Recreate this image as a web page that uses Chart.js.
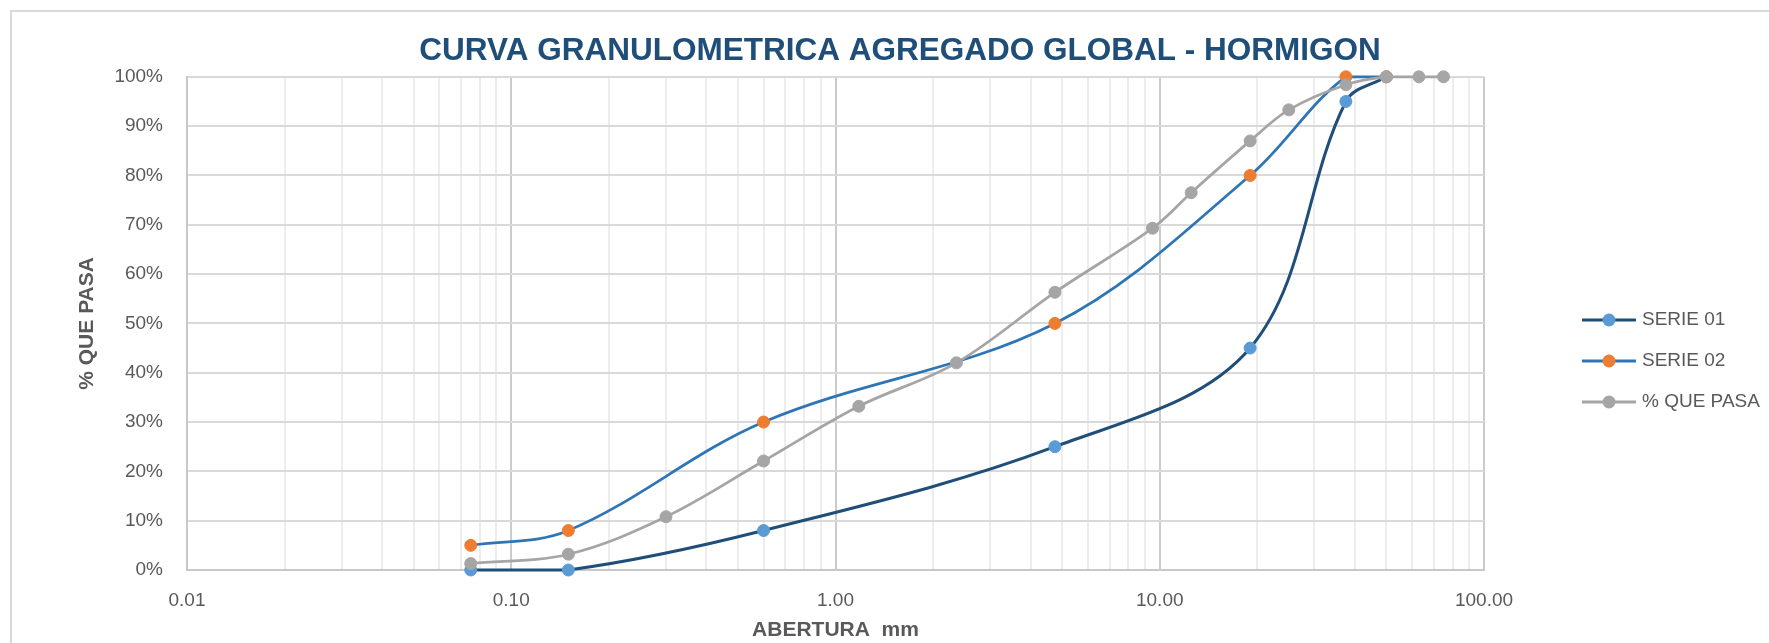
<!DOCTYPE html>
<html>
<head>
<meta charset="utf-8">
<script src="https://cdn.jsdelivr.net/npm/chart.js@4.4.1/dist/chart.umd.min.js"></script>
<style>
  html, body { margin: 0; padding: 0; background: #ffffff; overflow: hidden; }
  #wrap { position: relative; width: 1769px; height: 643px; }
  #frame { position: absolute; left: 10px; top: 10px; width: 2000px; height: 1000px;
           border: 2px solid #d9d9d9; pointer-events: none; }
</style>
</head>
<body>
<div id="wrap">
  <canvas id="c" width="1769" height="643"></canvas>
  <div id="frame"></div>
</div>
<script>
// ---- data ----
const chartTitle = 'CURVA GRANULOMETRICA AGREGADO GLOBAL - HORMIGON';
const xTitle = 'ABERTURA  mm';
const yTitle = '% QUE PASA';
const seriesNames = ['SERIE 01', 'SERIE 02', '% QUE PASA'];

const serie01Sizes = [0.075, 0.15, 0.6, 4.75, 19, 37.5, 50];
const serie01Pass  = [0, 0, 8, 25, 45, 95, 100];

const serie02Sizes = [0.075, 0.15, 0.6, 4.75, 19, 37.5, 50];
const serie02Pass  = [5, 8, 30, 50, 80, 100, 100];

const pasaSizes  = [0.075, 0.15, 0.3, 0.6, 1.18, 2.36, 4.75, 9.5, 12.5, 19, 25, 37.5, 50, 63, 75];
const pasaValues = [1.3, 3.2, 10.8, 22.1, 33.2, 42.0, 56.3, 69.3, 76.5, 87.0, 93.3, 98.4, 100, 100, 100];

const xDecades    = [0.01, 0.1, 1, 10, 100];
const xTickLabels = ['0.01', '0.10', '1.00', '10.00', '100.00'];
const yMin = 0, yMax = 100, yStep = 10;

// ---- helpers ----
const pts = (xs, ys) => xs.map((x, i) => ({ x: x, y: ys[i] }));
const isDecade = v => Math.abs(Math.log10(v) - Math.round(Math.log10(v))) < 1e-9;
const xGridValues = [];
xDecades.forEach((d, i) => {
  if (i < xDecades.length - 1) { for (let m = 1; m <= 9; m++) xGridValues.push(+(d * m).toPrecision(6)); }
  else xGridValues.push(d);
});
const decadeLabel = v => {
  const i = xDecades.findIndex(d => Math.abs(d - v) / d < 1e-9);
  return i >= 0 ? xTickLabels[i] : '';
};

Chart.defaults.font.family = '"Liberation Sans", Arial, sans-serif';
Chart.defaults.color = '#595959';

const legendPlugin = {
  id: 'excelLegend',
  afterDraw(chart) {
    const ctx = chart.ctx;
    const x0 = chart.chartArea.right + 98;
    chart.data.datasets.forEach((ds, i) => {
      const y = 320 + i * 41;
      ctx.save();
      ctx.strokeStyle = ds.borderColor;
      ctx.lineWidth = 3;
      ctx.beginPath(); ctx.moveTo(x0, y); ctx.lineTo(x0 + 54, y); ctx.stroke();
      ctx.fillStyle = ds.pointBackgroundColor;
      ctx.beginPath(); ctx.arc(x0 + 27, y, 6.5, 0, Math.PI * 2); ctx.fill();
      ctx.fillStyle = '#595959';
      ctx.font = '19px "Liberation Sans", Arial, sans-serif';
      ctx.textBaseline = 'middle';
      ctx.textAlign = 'left';
      ctx.fillText(ds.label, x0 + 60, y);
      ctx.restore();
    });
  }
};

new Chart(document.getElementById('c'), {
  type: 'line',
  data: {
    datasets: [
      {
        label: seriesNames[0], data: pts(serie01Sizes, serie01Pass), yAxisID: 'y',
        borderColor: '#1F4E79', borderWidth: 3, tension: 0.35,
        pointBackgroundColor: '#5B9BD5', pointBorderColor: '#5B9BD5', pointBorderWidth: 1, pointRadius: 6,
        clip: false, order: 3
      },
      {
        label: seriesNames[1], data: pts(serie02Sizes, serie02Pass), yAxisID: 'y',
        borderColor: '#2E75B6', borderWidth: 2.75, tension: 0.35,
        pointBackgroundColor: '#ED7D31', pointBorderColor: '#ED7D31', pointBorderWidth: 1, pointRadius: 6,
        clip: false, order: 2
      },
      {
        label: seriesNames[2], data: pts(pasaSizes, pasaValues), yAxisID: 'y',
        borderColor: '#A5A5A5', borderWidth: 2.75, tension: 0.35,
        pointBackgroundColor: '#A5A5A5', pointBorderColor: '#A5A5A5', pointBorderWidth: 1, pointRadius: 6,
        clip: false, order: 1
      }
    ]
  },
  options: {
    responsive: false,
    animation: false,
    events: [],
    layout: { padding: { left: 31, right: 0, top: 0, bottom: 0 } },
    plugins: {
      legend: { display: false },
      tooltip: { enabled: false },
      title: {
        display: true, text: chartTitle, color: '#1F4E79',
        font: { size: 31.5, weight: 'bold' }, padding: { top: 32, bottom: 7 }
      }
    },
    scales: {
      x: {
        type: 'logarithmic', position: 'bottom', min: xDecades[0], max: xDecades[xDecades.length - 1],
        afterBuildTicks: s => { s.ticks = xGridValues.map(v => ({ value: v, major: isDecade(v) })); },
        afterFit: s => { s.height = 73; },
        ticks: { autoSkip: false, maxRotation: 0, padding: 19, font: { size: 19 }, color: '#595959',
                 callback: v => decadeLabel(v) },
        grid: { drawTicks: false, z: -2, lineWidth: 2,
                color: c => (c.tick && isDecade(c.tick.value)) ? '#CBCBCB' : '#EDEDED' },
        border: { display: true, color: '#C8C8C8', width: 2 },
        title: { display: true, text: xTitle, color: '#595959', font: { size: 21, weight: 'bold' },
                 padding: { top: 0, bottom: 0 } }
      },
      y: {
        type: 'linear', position: 'left', min: yMin, max: yMax,
        afterFit: s => { s.width = 156; },
        ticks: { stepSize: yStep, padding: 24, font: { size: 19 }, color: '#595959', callback: v => v + '%' },
        grid: { drawTicks: false, color: '#D9D9D9', lineWidth: 2 },
        border: { display: true, color: '#C8C8C8', width: 2 },
        title: { display: true, text: yTitle, color: '#595959', font: { size: 21, weight: 'bold' },
                 padding: { top: 44, bottom: 0 } }
      },
      legendSpace: {
        type: 'linear', position: 'right', display: true,
        afterFit: s => { s.width = 285; },
        ticks: { display: false },
        grid: { display: false, drawOnChartArea: false, drawTicks: false },
        border: { display: false },
        title: { display: false }
      }
    }
  },
  plugins: [legendPlugin]
});
</script>
</body>
</html>
